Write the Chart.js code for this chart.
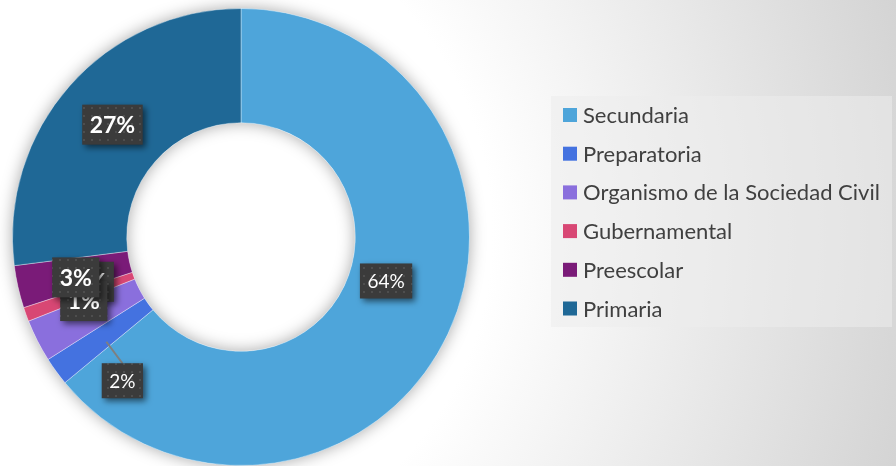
<!DOCTYPE html>
<html>
<head>
<meta charset="utf-8">
<script src="https://cdn.jsdelivr.net/npm/chart.js@4"></script>
<style>
    html, body { margin: 0; padding: 0; background: #fff; }
    #wrap { width: 896px; height: 466px; }
</style>
</head>
<body>
<div id="wrap"><canvas id="pieChart" width="896" height="466"></canvas></div>
<script>
// datos del gráfico
const categories = ['Secundaria', 'Preparatoria', 'Organismo de la Sociedad Civil', 'Gubernamental', 'Preescolar', 'Primaria'];
const values = [64, 2, 3, 1, 3, 27];
const sliceColors = ['#4EA5DA', '#4472E0', '#8A6FDD', '#D84774', '#7A1B78', '#1F6896'];
const percentLabels = ['64%', '2%', '3%', '1%', '3%', '27%'];
const boldLabels = [false, false, true, true, true, true];

// desplazamiento de cada etiqueta respecto al centro del sector (px)
const labelShift = [[-10, -29], [20, 43], [2, -33], [4, 6], [2, 3], [0, 1]];
const leaderLine = [false, true, false, false, false, false];

// fondo degradado
const backgroundPlugin = {
    id: 'bgGradient',
    beforeDraw(chart) {
        const ctx = chart.ctx;
        const g = ctx.createRadialGradient(160, 233, 0, 160, 233, 790);
        g.addColorStop(0, '#ffffff');
        g.addColorStop(0.42, '#ffffff');
        g.addColorStop(1, '#d2d2d2');
        ctx.save();
        ctx.fillStyle = g;
        ctx.fillRect(0, 0, chart.width, chart.height);
        ctx.restore();
    }
};

// sombra suave del anillo
const ringShadowPlugin = {
    id: 'ringShadow',
    beforeDatasetsDraw(chart) {
        const arc = chart.getDatasetMeta(0).data[0];
        if (!arc) return;
        const ctx = chart.ctx;
        ctx.save();
        ctx.beginPath();
        ctx.arc(arc.x, arc.y, arc.outerRadius, 0, Math.PI * 2);
        ctx.arc(arc.x, arc.y, arc.innerRadius, 0, Math.PI * 2, true);
        ctx.shadowColor = 'rgba(0,0,0,0.35)';
        ctx.shadowBlur = 16;
        ctx.fillStyle = '#ffffff';
        ctx.fill();
        ctx.restore();
    }
};

function makeDotPattern(ctx) {
    const c = document.createElement('canvas');
    c.width = 8; c.height = 8;
    const p = c.getContext('2d');
    p.fillStyle = '#3b3b3b';
    p.fillRect(0, 0, 8, 8);
    p.fillStyle = '#4e4e4e';
    p.fillRect(3, 3, 2, 2);
    return ctx.createPattern(c, 'repeat');
}

// etiquetas de porcentaje
const labelPlugin = {
    id: 'sliceLabels',
    afterDatasetsDraw(chart) {
        const ctx = chart.ctx;
        const meta = chart.getDatasetMeta(0);
        const pattern = makeDotPattern(ctx);
        meta.data.forEach((arc, i) => {
            const mid = (arc.startAngle + arc.endAngle) / 2;
            const r = (arc.innerRadius + arc.outerRadius) / 2;
            const mx = arc.x + Math.cos(mid) * r;
            const my = arc.y + Math.sin(mid) * r;
            const cx = mx + labelShift[i][0];
            const cy = my + labelShift[i][1];
            const size = boldLabels[i] ? 23 : 19;
            ctx.save();
            ctx.font = (boldLabels[i] ? 'bold ' : '') + size + 'px Lato';
            const w = ctx.measureText(percentLabels[i]).width + 15;
            const h = boldLabels[i] ? 40 : 35;
            if (leaderLine[i]) {
                ctx.strokeStyle = '#7f7f7f';
                ctx.lineWidth = 2;
                ctx.beginPath();
                ctx.moveTo(mx + 4, my + 4);
                ctx.lineTo(cx, cy - h / 2);
                ctx.stroke();
            }
            ctx.shadowColor = 'rgba(0,0,0,0.55)';
            ctx.shadowBlur = 6;
            ctx.shadowOffsetX = 3;
            ctx.shadowOffsetY = 3;
            ctx.fillStyle = pattern;
            ctx.fillRect(cx - w / 2, cy - h / 2, w, h);
            ctx.shadowColor = 'transparent';
            ctx.fillStyle = '#ffffff';
            ctx.textAlign = 'center';
            ctx.textBaseline = 'middle';
            ctx.fillText(percentLabels[i], cx, cy + 1);
            ctx.restore();
        });
    }
};

// leyenda a la derecha
const legendPlugin = {
    id: 'sideLegend',
    afterDraw(chart) {
        const ctx = chart.ctx;
        const ds = chart.data.datasets[0];
        ctx.save();
        ctx.fillStyle = 'rgba(236,236,236,0.55)';
        ctx.fillRect(551, 96, 341, 231);
        ctx.font = '22px Lato';
        ctx.textBaseline = 'middle';
        chart.data.labels.forEach((lab, i) => {
            const y = 115 + i * 38.7;
            ctx.fillStyle = ds.backgroundColor[i];
            ctx.fillRect(563, y - 7, 14, 14);
            ctx.fillStyle = '#404040';
            ctx.fillText(lab, 583, y + 1);
        });
        ctx.restore();
    }
};

const ctx = document.getElementById('pieChart').getContext('2d');
new Chart(ctx, {
    type: 'doughnut',
    data: {
        labels: categories,
        datasets: [{
            data: values,
            backgroundColor: sliceColors,
            borderColor: 'rgba(255,255,255,0.35)',
            borderWidth: 1
        }]
    },
    options: {
        responsive: false,
        animation: false,
        devicePixelRatio: 1,
        cutout: '50%',
        layout: {
            padding: { left: 12, right: 426, top: 8, bottom: 0 }
        },
        plugins: {
            legend: { display: false },
            tooltip: { enabled: false }
        }
    },
    plugins: [backgroundPlugin, ringShadowPlugin, labelPlugin, legendPlugin]
});
</script>
</body>
</html>
